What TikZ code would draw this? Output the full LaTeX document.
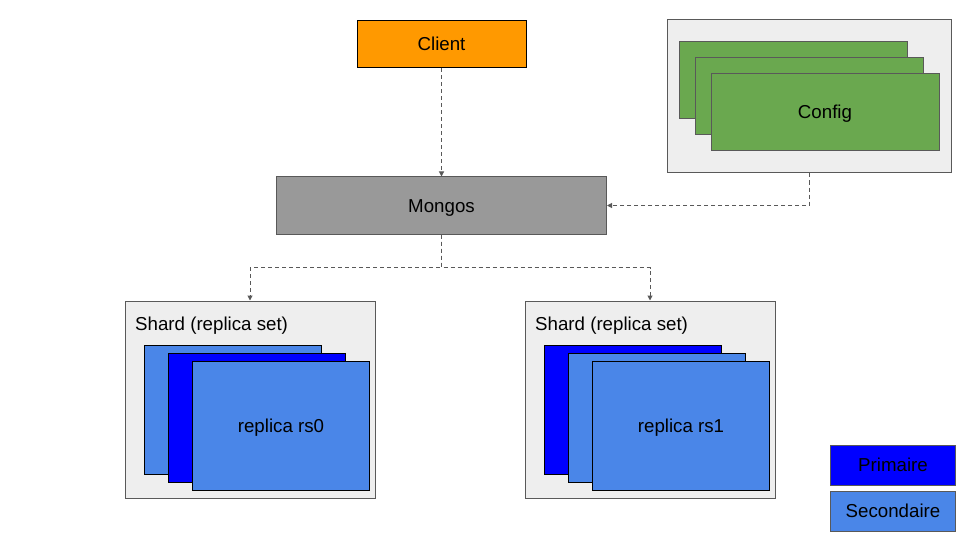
\documentclass[tikz,border=0pt]{standalone}
\usepackage{fontspec}
\setmainfont{Liberation Sans}
\usetikzlibrary{arrows.meta}
\definecolor{clientorange}{HTML}{FF9900}
\definecolor{mongosgray}{HTML}{999999}
\definecolor{panelgray}{HTML}{EEEEEE}
\definecolor{configgreen}{HTML}{6AA84F}
\definecolor{primblue}{HTML}{0000FF}
\definecolor{secblue}{HTML}{4A86E8}
\definecolor{edgegray}{HTML}{595959}

\begin{document}
\begin{tikzpicture}[x=1pt, y=-1pt,
    box/.style={draw=edgegray, line width=1pt, inner sep=0pt, text height=17pt, text depth=4pt, font=\fontsize{18.7}{22}\selectfont},
    panel/.style={box, fill=panelgray},
    cfgbox/.style={box, fill=configgreen, minimum width=228pt, minimum height=77pt},
    primbox/.style={box, draw=black, fill=primblue, minimum width=177pt, minimum height=129pt},
    secbox/.style={box, draw=black, fill=secblue, minimum width=177pt, minimum height=129pt},
    legbox/.style={box, minimum width=125pt, minimum height=40pt},
    shardlabel/.style={anchor=base west, inner sep=0pt, font=\fontsize{18.7}{22}\selectfont},
    link/.style={draw=edgegray, line width=1pt, dash pattern=on 4pt off 3pt, -{Triangle[length=5pt,width=5pt]}}
]
    \useasboundingbox (0,0) rectangle (960,540);

    % client and router
    \node[box, draw=black, fill=clientorange, minimum width=169pt, minimum height=47pt] (client) at (441.5,44.5) {Client};
    \node[box, fill=mongosgray, minimum width=330pt, minimum height=57pt] (mongos) at (441.5,205.5) {Mongos};

    % config servers
    \node[panel, minimum width=284pt, minimum height=153pt] (configbg) at (809,96.5) {};
    \node[cfgbox] (config0) at (793,80) {};
    \node[cfgbox] (config1) at (809,96) {};
    \node[cfgbox] (config2) at (825,112) {Config};

    % shards
    \node[panel, minimum width=250pt, minimum height=197pt] (shard0) at (250,399.5) {};
    \node[panel, minimum width=250pt, minimum height=197pt] (shard1) at (650,399.5) {};
    \node[shardlabel] (shardlabel0) at (135,330) {Shard (replica set)};
    \node[shardlabel] (shardlabel1) at (535,330) {Shard (replica set)};

    \node[secbox] (rs0a) at (233,410) {};
    \node[primbox] (rs0b) at (257,418) {};
    \node[secbox] (rs0c) at (281,426) {replica rs0};

    \node[primbox] (rs1a) at (633,410) {};
    \node[secbox] (rs1b) at (657,418) {};
    \node[secbox] (rs1c) at (681,426) {replica rs1};

    % legend
    \node[legbox, fill=primblue] (legprim) at (893,465) {Primaire};
    \node[legbox, fill=secblue] (legsec) at (893,511) {Secondaire};

    % links
    \draw[link] (client.south) -- (client.south |- mongos.north);
    \draw[link] (configbg.south) |- (mongos.east);
    \draw[link] (mongos.south) -- ++(0,33) -| (shard0.north);
    \draw[link] (mongos.south) -- ++(0,33) -| (shard1.north);
\end{tikzpicture}
\end{document}
